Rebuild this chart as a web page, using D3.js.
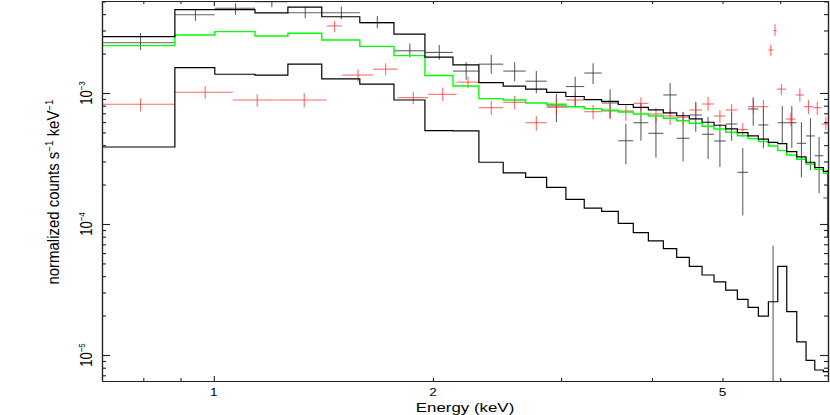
<!DOCTYPE html>
<html><head><meta charset="utf-8">
<script src="https://cdn.jsdelivr.net/npm/d3@7"></script>
<style>
body{margin:0;background:#fff}
svg{display:block}
text{font-family:"Liberation Sans",Arial,Helvetica,sans-serif;fill:#000}
</style>
</head><body>
<svg id="chart" width="830" height="415"></svg>
<script>
// ---- data (energies in keV, values in normalized counts s^-1 keV^-1) ----
const binEdges = [0.702,0.884,1.003,1.139,1.264,1.407,1.587,1.768,1.950,2.131,2.313,2.498,2.682,2.866,3.046,3.228,3.411,3.595,3.770,3.954,4.146,4.325,4.501,4.686,4.867,5.050,5.240,5.420,5.600,5.780,5.954,6.126,6.323,6.512,6.694,6.879,7.06];

const modelTotal = [2.69e-3,4.33e-3,4.33e-3,4.09e-3,4.52e-3,3.82e-3,3.44e-3,2.81e-3,1.88e-3,1.64e-3,1.20e-3,1.13e-3,1.07e-3,1.01e-3,9.40e-4,8.91e-4,8.63e-4,8.17e-4,7.77e-4,7.42e-4,7.06e-4,6.70e-4,6.35e-4,5.98e-4,5.67e-4,5.32e-4,4.99e-4,4.71e-4,4.45e-4,4.20e-4,4.11e-4,3.57e-4,3.25e-4,2.96e-4,2.70e-4,2.52e-4];
const modelGreen = [2.30e-3,2.77e-3,2.94e-3,2.72e-3,2.86e-3,2.54e-3,2.27e-3,1.93e-3,1.36e-3,1.13e-3,9.05e-4,8.84e-4,8.39e-4,8.20e-4,7.86e-4,7.59e-4,7.38e-4,7.16e-4,6.91e-4,6.68e-4,6.41e-4,6.14e-4,5.87e-4,5.57e-4,5.31e-4,5.01e-4,4.72e-4,4.48e-4,4.25e-4,3.94e-4,3.63e-4,3.36e-4,3.12e-4,2.87e-4,2.62e-4,2.44e-4];
const modelThermal = [3.87e-4,1.56e-3,1.39e-3,1.37e-3,1.66e-3,1.28e-3,1.17e-3,8.84e-4,5.16e-4,5.13e-4,2.96e-4,2.46e-4,2.27e-4,1.90e-4,1.54e-4,1.32e-4,1.25e-4,1.01e-4,8.58e-5,7.42e-5,6.48e-5,5.57e-5,4.75e-5,4.08e-5,3.61e-5,3.13e-5,2.66e-5,2.31e-5,1.98e-5,2.55e-5,4.75e-5,2.14e-5,1.26e-5,9.11e-6,7.68e-6,7.46e-6];

const blackVal = [2.42e-3,3.96e-3,4.43e-3,4.98e-3,4.10e-3,4.10e-3,3.44e-3,2.10e-3,2.04e-3,1.47e-3,1.66e-3,1.47e-3,1.23e-3,7.96e-4,1.12e-3,1.42e-3,8.39e-4,4.32e-4,5.93e-4,4.92e-4,9.66e-4,4.51e-4,6.79e-4,4.84e-4,4.30e-4,5.80e-4,2.48e-4,7.55e-4,5.70e-4,5.0e-6,5.93e-4,5.93e-4,4.13e-4,4.70e-4,3.32e-4,1.58e-4];
const blackHi = [2.87e-3,4.36e-3,4.84e-3,5.45e-3,4.51e-3,4.56e-3,3.87e-3,2.39e-3,2.32e-3,1.72e-3,1.95e-3,1.72e-3,1.47e-3,9.83e-4,1.33e-3,1.69e-3,1.07e-3,5.80e-4,8.34e-4,6.59e-4,1.19e-3,7.16e-4,8.58e-4,6.56e-4,5.80e-4,7.20e-4,3.78e-4,9.27e-4,7.96e-4,6.83e-5,7.96e-4,7.96e-4,6.01e-4,6.41e-4,4.61e-4,2.58e-4];
const blackLo = [2.13e-3,3.56e-3,3.94e-3,4.51e-3,3.72e-3,3.67e-3,3.12e-3,1.87e-3,1.79e-3,1.26e-3,1.40e-3,1.23e-3,9.95e-4,6.01e-4,7.86e-4,1.17e-3,6.41e-4,2.86e-4,4.32e-4,3.21e-4,6.91e-4,3.01e-4,5.07e-4,3.13e-4,2.72e-4,4.32e-4,1.16e-4,5.63e-4,3.78e-4,1e-7,4.08e-4,3.80e-4,2.27e-4,2.58e-4,1.72e-4,7.96e-5];

const redEmin = [0.702,0.884,1.062,1.232,1.430,1.501,1.655,1.789,1.970,2.156,2.313,2.498,2.682,2.866,3.046,3.228,3.411,3.595,3.770,3.954,4.146,4.325,4.501,4.686,4.867,5.050,5.240,5.420,5.600,5.780,5.871,5.934,6.113,6.299,6.471,6.652,6.842];
const redEmax = [0.884,1.062,1.232,1.430,1.501,1.655,1.789,1.970,2.156,2.313,2.498,2.682,2.866,3.046,3.228,3.411,3.595,3.770,3.954,4.146,4.325,4.501,4.686,4.867,5.050,5.240,5.420,5.600,5.780,5.871,5.934,6.113,6.299,6.471,6.652,6.842,7.025];
const redVal = [8.20e-4,1.012e-3,8.84e-4,8.84e-4,3.25e-3,1.37e-3,1.52e-3,9.21e-4,9.77e-4,1.21e-3,7.72e-4,8.49e-4,5.93e-4,7.78e-4,8.84e-4,7.20e-4,7.29e-4,7.29e-4,8.34e-4,6.91e-4,6.68e-4,6.53e-4,7.42e-4,8.24e-4,6.68e-4,7.42e-4,5.26e-4,7.86e-4,7.86e-4,2.13e-3,2.99e-3,1.07e-3,6.33e-4,9.66e-4,7.86e-4,7.72e-4,5.80e-4];
const redHi = [9.11e-4,1.13e-3,9.77e-4,9.95e-4,3.54e-3,1.52e-3,1.69e-3,1.023e-3,1.10e-3,1.33e-3,8.69e-4,9.49e-4,6.68e-4,8.95e-4,1.005e-3,8.10e-4,8.20e-4,8.10e-4,9.27e-4,7.68e-4,7.42e-4,7.20e-4,8.39e-4,9.32e-4,7.42e-4,8.24e-4,5.90e-4,8.95e-4,8.84e-4,2.35e-3,3.34e-3,1.17e-3,7.07e-4,1.086e-3,8.84e-4,8.58e-4,6.59e-4];
const redLo = [7.20e-4,9.05e-4,7.86e-4,7.78e-4,2.91e-3,1.22e-3,1.36e-3,8.20e-4,8.69e-4,1.09e-3,6.79e-4,7.51e-4,5.16e-4,6.79e-4,7.86e-4,6.30e-4,6.30e-4,6.14e-4,7.33e-4,5.90e-4,5.70e-4,5.80e-4,6.45e-4,7.33e-4,5.93e-4,6.59e-4,4.61e-4,7.00e-4,7.00e-4,1.92e-3,2.72e-3,9.66e-4,5.60e-4,8.58e-4,6.91e-4,6.79e-4,5.22e-4];

const xMajorTicks = [1];
const xMinorTicks = [0.8,0.9,2,3,4,5,6];
const xTickLabels = [1,2,5];
const yMajorTicks = [1e-5,1e-4,1e-3];
const yTickExponents = ["−5","−4","−3"];
const xTitle = "Energy (keV)";
const yTitleParts = ["normalized counts s","−1"," keV","−1"];

// ---- layout ----
const L=102, R=828, T=1, B=381;
const svg = d3.select("#chart");
const x = d3.scaleLog().domain([0.702, 6.98]).range([L, R]);
const y = d3.scaleLog().domain([6.331e-6, 5.037e-3]).range([B, T]);

svg.append("defs").append("clipPath").attr("id","clip")
  .append("rect").attr("x",L).attr("y",T).attr("width",R-L).attr("height",B-T);
const plot = svg.append("g").attr("clip-path","url(#clip)");

function drawCrosses(emin, emax, val, lo, hi, color, op){
  const g = plot.append("g").attr("stroke",color).attr("stroke-width",1.1).attr("stroke-opacity",op).attr("fill","none");
  val.forEach((v,i)=>{
    const ec = (emin[i]+emax[i])/2;
    g.append("line").attr("x1",x(emin[i])).attr("x2",x(emax[i])).attr("y1",y(v)).attr("y2",y(v));
    g.append("line").attr("x1",x(ec)).attr("x2",x(ec)).attr("y1",y(lo[i])).attr("y2",y(hi[i]));
  });
}
drawCrosses(binEdges.slice(0,-1), binEdges.slice(1), blackVal, blackLo, blackHi, "#3a3a3a", 0.8);
drawCrosses(redEmin, redEmax, redVal, redLo, redHi, "#ff2a2a", 0.7);

const stepLine = d3.line().x(d=>x(d[0])).y(d=>y(d[1]));
function stepPts(vals){
  const pts=[];
  vals.forEach((v,i)=>{pts.push([binEdges[i],v]);pts.push([binEdges[i+1],v]);});
  return pts;
}
plot.append("path").attr("d",stepLine(stepPts(modelGreen))).attr("fill","none").attr("stroke","#00ff00").attr("stroke-width",1.4);
plot.append("path").attr("d",stepLine(stepPts(modelThermal))).attr("fill","none").attr("stroke","#000").attr("stroke-width",1.2);
plot.append("path").attr("d",stepLine(stepPts(modelTotal))).attr("fill","none").attr("stroke","#000").attr("stroke-width",1.2);

// ---- axes (inward ticks on all four sides) ----
const yAll = y.ticks().filter(v=>v>=6.331e-6 && v<=5.037e-3);
const yMinor = yAll.filter(v=>!yMajorTicks.some(m=>Math.abs(m-v)/m<1e-6));
function styleAxis(g){
  g.selectAll("path.domain").attr("stroke","#222").attr("stroke-width",1.2);
  g.selectAll(".tick line").attr("stroke","#222").attr("stroke-width",1.1);
  g.selectAll(".tick text").remove();
}
const axes = [
  [d3.axisLeft(y).tickValues(yMajorTicks).tickSize(-8), `translate(${L},0)`],
  [d3.axisLeft(y).tickValues(yMinor).tickSize(-4), `translate(${L},0)`],
  [d3.axisRight(y).tickValues(yMajorTicks).tickSize(-8), `translate(${R},0)`],
  [d3.axisRight(y).tickValues(yMinor).tickSize(-4), `translate(${R},0)`],
  [d3.axisBottom(x).tickValues(xMajorTicks).tickSize(-5), `translate(0,${B})`],
  [d3.axisBottom(x).tickValues(xMinorTicks).tickSize(-3), `translate(0,${B})`],
  [d3.axisTop(x).tickValues(xMajorTicks).tickSize(-5), `translate(0,${T})`],
  [d3.axisTop(x).tickValues(xMinorTicks).tickSize(-3), `translate(0,${T})`]
];
axes.forEach(([ax,tr])=>{
  const g = svg.append("g").attr("transform",tr).call(ax.tickSizeOuter(0).tickFormat(""));
  styleAxis(g);
});

// ---- labels ----
xTickLabels.forEach(v=>{
  svg.append("text").attr("transform",`translate(${x(v)},396) scale(1.24,1)`)
    .attr("text-anchor","middle").attr("font-size",11).text(v);
});
yMajorTicks.forEach((v,i)=>{
  const t = svg.append("text").attr("transform",`translate(92,${y(v)}) rotate(-90) scale(1,1.22)`)
    .attr("text-anchor","middle").attr("font-size",13);
  t.append("tspan").text("10");
  t.append("tspan").attr("font-size",8).attr("dy",-5.5).text(yTickExponents[i]);
});
svg.append("text").attr("transform",`translate(${(L+R)/2},412) scale(1.3,1)`)
  .attr("text-anchor","middle").attr("font-size",13).text(xTitle);
const yt = svg.append("text").attr("transform",`translate(58.5,192) rotate(-90) scale(1.15,1.2)`)
  .attr("text-anchor","middle").attr("font-size",13);
yt.append("tspan").text(yTitleParts[0]);
yt.append("tspan").attr("font-size",8.5).attr("dy",-5).text(yTitleParts[1]);
yt.append("tspan").attr("dy",5).text(yTitleParts[2]);
yt.append("tspan").attr("font-size",8.5).attr("dy",-5).text(yTitleParts[3]);
</script>
</body></html>
